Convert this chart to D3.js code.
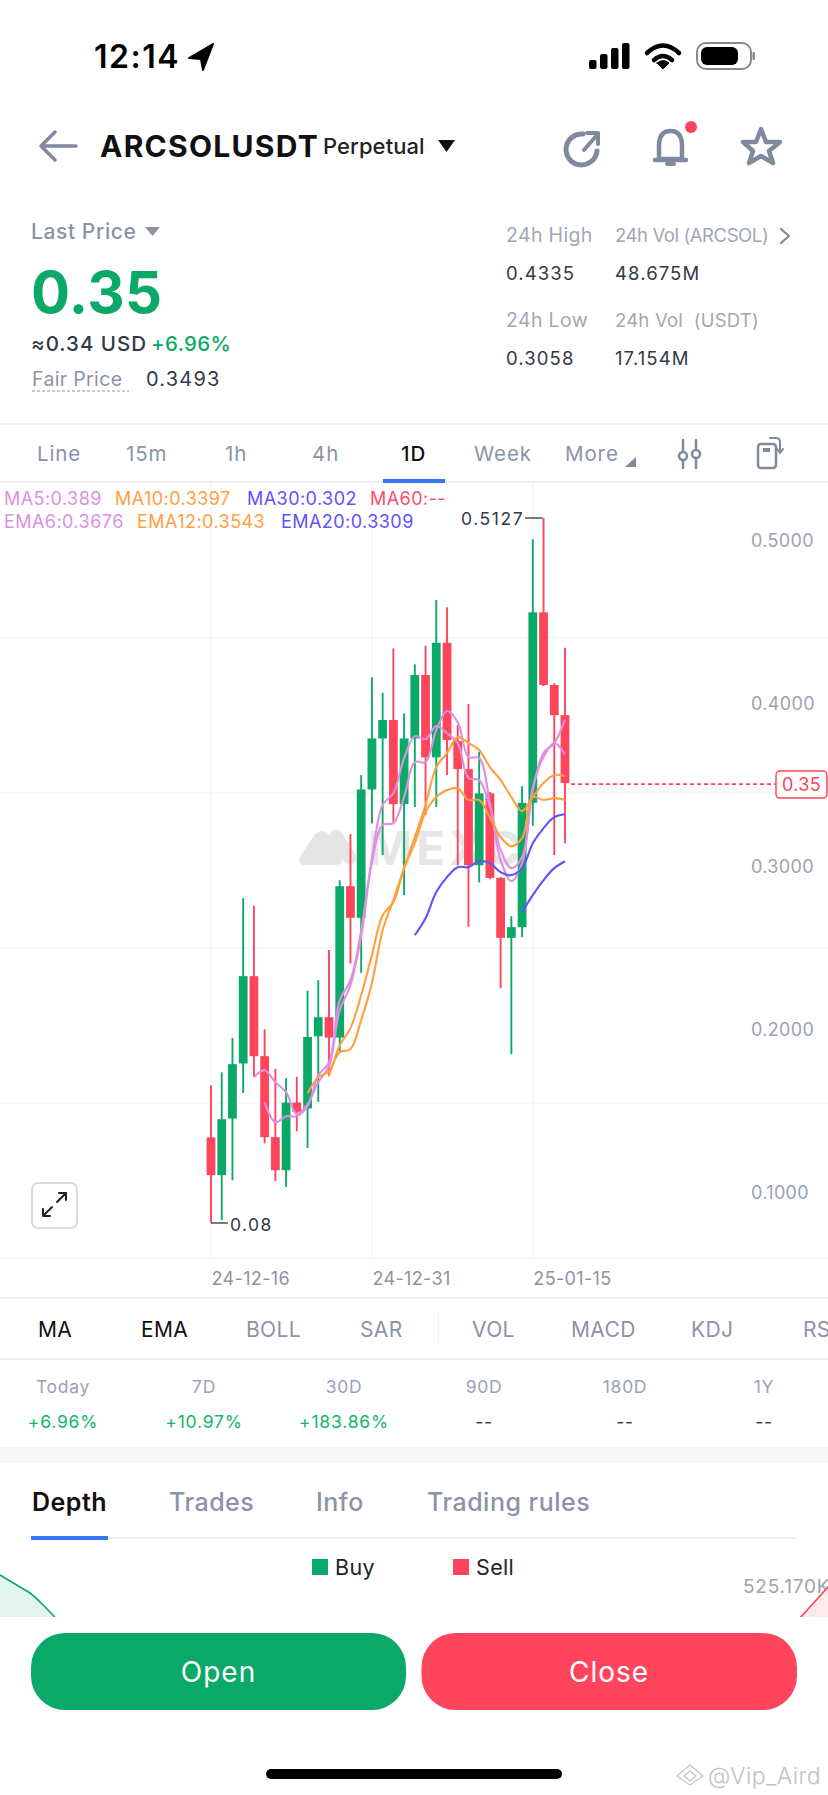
<!DOCTYPE html>
<html>
<head>
<meta charset="utf-8">
<style>
  html, body { margin: 0; padding: 0; background: #fff; }
  svg { display: block; }
  text { font-family: Inter, "Noto Sans", sans-serif; letter-spacing: 0.35px; }
</style>
<script src="https://cdn.jsdelivr.net/npm/d3@7/dist/d3.min.js"></script>
</head>
<body>
<div id="svg-area"></div>
<script>
var svgWidth = 828;
var svgHeight = 1795;

// daily candles
var dates = ["24-12-16","24-12-17","24-12-18","24-12-19","24-12-20","24-12-21","24-12-22","24-12-23","24-12-24","24-12-25",
  "24-12-26","24-12-27","24-12-28","24-12-29","24-12-30","24-12-31","25-01-01","25-01-02","25-01-03","25-01-04",
  "25-01-05","25-01-06","25-01-07","25-01-08","25-01-09","25-01-10","25-01-11","25-01-12","25-01-13","25-01-14",
  "25-01-15","25-01-16","25-01-17","25-01-18"];
var opens = [.1325,.1094,.1441,.1779,.2315,.1824,.1327,.1124,.1539,.1503,.1946,.2063,.1938,.2867,.2673,.3461,.3774,
  .3887,.3371,.3774,.4163,.3658,.4361,.3758,.3586,.2996,.3437,.2918,.2550,.2616,.3379,.4548,.4102,.3917];
var highs = [.1646,.1725,.1936,.2794,.2747,.1989,.1746,.1689,.1697,.2225,.2290,.2475,.2904,.3187,.3549,.4149,.4054,
  .4327,.3928,.4229,.4343,.4624,.4579,.3856,.3985,.3692,.3445,.2925,.2683,.3481,.4996,.5127,.4112,.4331];
var lows = [.08,.0818,.1062,.1598,.1697,.1289,.1058,.1021,.1363,.1261,.1543,.1701,.1850,.2393,.2335,.3252,.3058,
  .3262,.2812,.3353,.3303,.3354,.3549,.2996,.2618,.2890,.2910,.2241,.1836,.2554,.3238,.4096,.3058,.3130];
var closes = [.1094,.1437,.1775,.2315,.1824,.1327,.1124,.1539,.1482,.1942,.2063,.1938,.2867,.2673,.3461,.3774,.3887,
  .3371,.3774,.4163,.3658,.4361,.3764,.3586,.2996,.3437,.2918,.2550,.2616,.3379,.4548,.4102,.3917,.35];

// moving averages, null until the line begins
var ma5 = [null,null,null,null,.1695,.1738,.1664,.1603,.1468,.1529,.1664,.1762,.2106,.2260,.2560,.3015,.3242,.3254,
  .3414,.3629,.3629,.3825,.3942,.3874,.3660,.3653,.3377,.3027,.2898,.3009,.3457,.3684,.3745,.389];
var ema6 = [null,null,null,null,null,.1541,.1418,.1455,.1455,.1517,.1707,.1787,.2168,.2290,.2597,.3039,.3365,.3438,
  .3653,.3788,.3770,.3850,.3807,.3745,.3531,.3518,.3353,.3089,.2978,.3046,.3475,.3660,.3745,.3676];
var ma10 = [null,null,null,null,null,null,null,null,null,.1596,.1695,.1732,.1891,.1996,.2198,.2444,.2689,.2769,
  .2978,.3131,.3322,.3414,.3457,.3469,.3396,.3396,.3291,.3168,.3113,.3162,.3414,.3396,.3408,.3397];
var ema12 = [null,null,null,null,null,null,null,null,null,null,null,.1701,.1848,.1867,.2045,.2272,.2597,.2782,
  .2978,.3168,.3365,.3598,.3684,.3782,.3745,.3703,.3598,.3518,.3414,.3328,.3414,.3500,.3549,.3543];
var ema20 = [null,null,null,null,null,null,null,null,null,null,null,null,null,null,null,null,null,null,null,
  .2567,.2671,.2831,.2923,.2984,.2984,.3021,.3009,.2953,.2935,.2978,.3131,.3224,.3291,.3309];
var ma30 = [null,null,null,null,null,null,null,null,null,null,null,null,null,null,null,null,null,null,null,null,
  null,null,null,null,null,null,null,null,null,.2708,.2812,.2904,.2978,.302];

var priceTicks = [.5, .4, .3, .2, .1];
var dateTicks = ["24-12-16", "24-12-31", "25-01-15"];
var lastPrice = 0.35;

var legendRow1 = ["MA5:0.389", "MA10:0.3397", "MA30:0.302", "MA60:--"];
var legendRow2 = ["EMA6:0.3676", "EMA12:0.3543", "EMA20:0.3309"];
var intervalTabs = ["Line", "15m", "1h", "4h", "1D", "Week", "More"];
var indicatorTabs = ["MA", "EMA", "BOLL", "SAR", "VOL", "MACD", "KDJ", "RSI"];
var periodNames = ["Today", "7D", "30D", "90D", "180D", "1Y"];
var periodValues = ["+6.96%", "+10.97%", "+183.86%", "--", "--", "--"];
var infoTabs = ["Depth", "Trades", "Info", "Trading rules"];

// depth chart corners that show above the buttons
var bidOffset = [0, 10, 20, 30, 40, 50, 60];
var bidDepth = [42, 36, 30, 24, 15, 5, -6];
var askOffset = [0, 10, 20, 30];
var askDepth = [-2, 9, 20, 31];

var green = "#0ba968", red = "#ff455c", gray = "#8a94a6", ink = "#333a45", iconGray = "#7f8a9e";
var pink = "#dd90e2", orange = "#ff9f3f", purple = "#6152ff", rule = "#eef0f4", grid = "#f3f4f7";

var svg = d3.select("#svg-area")
  .append("svg")
  .attr("width", svgWidth)
  .attr("height", svgHeight)
  .attr("viewBox", "0 0 " + svgWidth + " " + svgHeight);

function label(x, y, str, size, color, weight, anchor) {
  return svg.append("text")
    .attr("x", x).attr("y", y)
    .attr("font-size", size)
    .attr("fill", color)
    .attr("font-weight", weight || 400)
    .attr("text-anchor", anchor || "start")
    .text(str);
}
function spaced(sel, px) {
  return sel.style("letter-spacing", px + "px");
}
function hline(y, x1, x2, color, w) {
  svg.append("line").attr("x1", x1).attr("x2", x2).attr("y1", y).attr("y2", y)
    .attr("stroke", color).attr("stroke-width", w);
}
function icon(d, stroke, w, fill) {
  return svg.append("path").attr("d", d)
    .attr("fill", fill || "none")
    .attr("stroke", stroke || "none")
    .attr("stroke-width", w || 0)
    .attr("stroke-linecap", "round")
    .attr("stroke-linejoin", "round");
}

// status bar
label(94, 68, "12:14", 32, "#000", 600).attr("textLength", 85);
icon("M213 44 L189 58 L201 59 L203 70 Z", "#000", 2, "#000");
[[589, 60], [600, 54], [611, 48], [622, 43]].forEach(function(b) {
  svg.append("rect").attr("x", b[0]).attr("y", b[1]).attr("width", 7.5).attr("height", 69 - b[1]).attr("rx", 2).attr("fill", "#000");
});
icon("M647 53 Q663 38 679 53", "#000", 4.5);
icon("M654 60 Q663 52 672 60", "#000", 4.5);
icon("M657 63 L663 69 L669 63 Q663 58 657 63 Z", "#000", 1, "#000");
svg.append("rect").attr("x", 697).attr("y", 43).attr("width", 54).attr("height", 26).attr("rx", 9).attr("fill", "#fff").attr("stroke", "#8a8a8a").attr("stroke-width", 2);
svg.append("rect").attr("x", 701).attr("y", 47).attr("width", 37).attr("height", 18).attr("rx", 6).attr("fill", "#000");
svg.append("rect").attr("x", 752.5).attr("y", 52).attr("width", 2.5).attr("height", 8).attr("rx", 1).attr("fill", "#8a8a8a");

// title row
icon("M76 146 L42 146 M55 132 L41 146 L55 160", iconGray, 3.5);
label(100, 157, "ARCSOLUSDT", 30, "#111", 700).attr("textLength", 218);
label(323, 154, "Perpetual", 22, "#222", 500).attr("textLength", 102);
icon("M438 140 L455 140 L446.5 152 Z", null, 0, "#111");
icon("M583 134 A15.5 15.5 0 1 0 597 151", iconGray, 5);
icon("M584 150 L597 135 M587 133 L598 133 L598 144", iconGray, 4);
icon("M659 159 L659 146 Q659 131 670.5 131 Q682 131 682 146 L682 159 Z", iconGray, 4.5);
icon("M655 160 L686 160", iconGray, 4.5);
icon("M667 164 L674 164", iconGray, 4);
svg.append("circle").attr("cx", 691).attr("cy", 127).attr("r", 6).attr("fill", red);
icon("M761 129 L766 142 L780 142 L769 151 L773 163 L761 156 L749 163 L753 151 L743 142 L756 142 Z", iconGray, 4.5);

// price block
spaced(label(31, 239, "Last Price", 21, gray, 500), 0.6);
icon("M145 227 L160 227 L152.5 236 Z", null, 0, gray);
label(31, 313, "0.35", 58, green, 700);
spaced(label(31, 351, "≈0.34 USD", 20.5, ink, 500), 1);
label(151, 351, "+6.96%", 20.5, green, 500);
label(32, 386, "Fair Price", 19.5, gray, 400);
svg.append("line").attr("x1", 32).attr("x2", 129).attr("y1", 391).attr("y2", 391)
  .attr("stroke", gray).attr("stroke-width", 1.2).attr("stroke-dasharray", "3 2");
spaced(label(146, 386, "0.3493", 20, ink, 400), 1.2);

label(506, 242, "24h High", 19.5, "#a0a8b6");
label(615, 242, "24h Vol (ARCSOL)", 18.5, "#a0a8b6").attr("textLength", 154);
icon("M781 229 L789 236 L781 243", iconGray, 2.2);
spaced(label(506, 280, "0.4335", 18.5, ink), 1.1);
spaced(label(615, 280, "48.675M", 18.5, ink), 1.1);
label(506, 327, "24h Low", 19.5, "#a0a8b6");
label(615, 327, "24h Vol  (USDT)", 18.5, "#a0a8b6").attr("textLength", 144).attr("xml:space", "preserve");
spaced(label(506, 365, "0.3058", 18.5, ink), 1.1);
spaced(label(615, 365, "17.154M", 18.5, ink), 1.1);

// interval tabs
hline(424, 0, svgWidth, rule, 2);
hline(482, 0, svgWidth, rule, 2);
var intervalX = [37, 126, 225, 312, 401, 474, 565];
intervalTabs.forEach(function(t, i) {
  spaced(label(intervalX[i], 461, t, 20.5, t === "1D" ? "#111" : gray, t === "1D" ? 500 : 400), 0.9);
});
svg.append("rect").attr("x", 383).attr("y", 479).attr("width", 62).attr("height", 4).attr("fill", "#3577f5");
icon("M636 457 L636 467 L625 467 Z", null, 0, iconGray);
icon("M683 440 L683 451 M683 462 L683 468 M696 440 L696 448 M696 460 L696 468", iconGray, 2.5);
svg.append("circle").attr("cx", 683).attr("cy", 456).attr("r", 4).attr("fill", "none").attr("stroke", iconGray).attr("stroke-width", 2.5);
svg.append("circle").attr("cx", 696).attr("cy", 454).attr("r", 4).attr("fill", "none").attr("stroke", iconGray).attr("stroke-width", 2.5);
svg.append("rect").attr("x", 758).attr("y", 444).attr("width", 18).attr("height", 24).attr("rx", 3).attr("fill", "none").attr("stroke", iconGray).attr("stroke-width", 2.5);
svg.append("rect").attr("x", 763).attr("y", 448).attr("width", 7).attr("height", 4).attr("fill", iconGray);
icon("M770 438 L776 438 Q780 438 780 442 L780 452 M777 449 L780 453 L783 449", iconGray, 2);

// scales, price runs top to bottom between the two marked extremes
var xScale = d3.scalePoint()
  .domain(dates)
  .range([211, 565]);
var yScale = d3.scaleLinear()
  .domain([0.5127, 0.08])
  .range([518, 1223]);

// chart grid: five equal rows, vertical lines at the dated candles
d3.range(1, 6).forEach(function(i) {
  hline(483 + i * 155, 0, svgWidth, grid, 1.5);
});
dateTicks.forEach(function(d) {
  svg.append("line").attr("x1", xScale(d)).attr("x2", xScale(d)).attr("y1", 483).attr("y2", 1258)
    .attr("stroke", grid).attr("stroke-width", 1.5);
});

// MEXC watermark
icon("M302 857 L316 836 Q322 830 328 836 L340 857 Q342 863 336 863 L305 863 Q300 863 302 857 Z", "#e5e5e5", 4, "#e5e5e5");
icon("M336 836 L350 858", "#e5e5e5", 13);
label(368, 865, "MEXC", 47, "#e6e6e6", 700).attr("textLength", 153);

// candles
var candles = dates.map(function(d, i) {
  return { date: d, open: opens[i], high: highs[i], low: lows[i], close: closes[i] };
});
var candleColor = function(d) { return d.close >= d.open ? green : red; };

svg.append("g").selectAll("line")
  .data(candles)
  .enter().append("line")
  .attr("x1", d => xScale(d.date))
  .attr("x2", d => xScale(d.date))
  .attr("y1", d => yScale(d.high))
  .attr("y2", d => yScale(d.low))
  .attr("stroke", candleColor)
  .attr("stroke-width", 1.9);

svg.append("g").selectAll("rect")
  .data(candles)
  .enter().append("rect")
  .attr("x", d => xScale(d.date) - 4.4)
  .attr("width", 8.8)
  .attr("y", d => yScale(Math.max(d.open, d.close)))
  .attr("height", d => Math.abs(yScale(d.open) - yScale(d.close)))
  .attr("fill", candleColor);

// average lines
var lineGenerator = d3.line()
  .defined(d => d.value !== null)
  .x(d => xScale(d.date))
  .y(d => yScale(d.value))
  .curve(d3.curveCatmullRom);

[[ma5, pink], [ema6, pink], [ma10, orange], [ema12, orange], [ma30, purple], [ema20, purple]].forEach(function(s) {
  svg.append("path")
    .attr("fill", "none")
    .attr("stroke", s[1])
    .attr("stroke-width", 2.1)
    .attr("d", lineGenerator(s[0].map(function(v, i) { return { date: dates[i], value: v }; })));
});

// legend
var legendColors = [pink, orange, purple, "#ff4d66"];
var row1X = [4, 115, 247, 370];
legendRow1.forEach(function(t, i) { spaced(label(row1X[i], 505, t, 18, legendColors[i]), 0.45); });
var row2X = [4, 137, 281];
legendRow2.forEach(function(t, i) { spaced(label(row2X[i], 528, t, 18, legendColors[i]), 0.45); });

// price axis labels
svg.append("g").selectAll("text")
  .data(priceTicks)
  .enter().append("text")
  .attr("x", 751)
  .attr("y", d => yScale(d) + 8.5)
  .attr("font-size", 18)
  .attr("fill", "#9aa3b2")
  .text(d => d.toFixed(4));

// date axis
var xAxis = d3.axisBottom(xScale).tickValues(dateTicks).tickSize(0);
var xAxisGroup = svg.append("g").attr("transform", "translate(0,1258)").call(xAxis);
xAxisGroup.select(".domain").remove();
xAxisGroup.selectAll("text")
  .attr("text-anchor", "start")
  .attr("y", 27)
  .attr("dy", 0)
  .attr("font-size", 18)
  .attr("font-family", "Inter")
  .attr("fill", gray);

// high, low and last price markers
hline(yScale(d3.max(highs)), 525, xScale(dates[31]) - 1, "#333", 1.3);
spaced(label(461, yScale(d3.max(highs)) + 7, "0.5127", 17.5, ink), 1.6);
hline(yScale(d3.min(lows)), xScale(dates[0]), 228, "#333", 1.3);
spaced(label(230, yScale(d3.min(lows)) + 8, "0.08", 17.5, ink), 1.4);
svg.append("line")
  .attr("x1", xScale(dates[33]) + 6).attr("x2", 776)
  .attr("y1", yScale(lastPrice) + 1).attr("y2", yScale(lastPrice) + 1)
  .attr("stroke", red).attr("stroke-width", 1.7).attr("stroke-dasharray", "4 3");
svg.append("rect").attr("x", 776).attr("y", yScale(lastPrice) - 12).attr("width", 51).attr("height", 27).attr("rx", 4)
  .attr("fill", "#fff").attr("stroke", red).attr("stroke-width", 1.5);
label(801.5, yScale(lastPrice) + 8, "0.35", 18, red, 400, "middle");

// expand button
svg.append("rect").attr("x", 32).attr("y", 1183).attr("width", 45).attr("height", 45).attr("rx", 6)
  .attr("fill", "#fff").attr("stroke", "#d9dbe0").attr("stroke-width", 2);
icon("M43 1216 L52 1207 M43 1209 L43 1216 L50 1216 M57 1202 L66 1193 M59 1193 L66 1193 L66 1200", "#222", 2);

// indicator tabs
hline(1298, 0, svgWidth, rule, 2);
hline(1359, 0, svgWidth, rule, 2);
var indicatorX = [38, 141, 246, 360, 472, 571, 691, 803];
indicatorTabs.forEach(function(t, i) {
  label(indicatorX[i], 1337, t, 21, i < 2 ? "#111" : gray, 400);
});
svg.append("line").attr("x1", 438.5).attr("x2", 438.5).attr("y1", 1313).attr("y2", 1343).attr("stroke", rule).attr("stroke-width", 1.5);

// period changes
var periodX = [63, 204, 344, 484, 625, 764];
periodNames.forEach(function(t, i) {
  spaced(label(periodX[i], 1393, t, 17.5, "#9aa3b2", 400, "middle"), 0.7);
  spaced(label(periodX[i], 1428, periodValues[i], 17.5, i < 3 ? "#12b76a" : ink, 400, "middle"), 0.8);
});
svg.append("rect").attr("x", 0).attr("y", 1447).attr("width", svgWidth).attr("height", 16).attr("fill", "#f5f6f8");

// info tabs
var infoX = [32, 169, 316, 427];
infoTabs.forEach(function(t, i) {
  spaced(label(infoX[i], 1511, t, 25, i === 0 ? "#111" : gray, i === 0 ? 600 : 500), 0.5);
});
hline(1538, 31, 797, rule, 2);
svg.append("rect").attr("x", 31).attr("y", 1536).attr("width", 77).attr("height", 4).attr("fill", "#3577f5");

// depth legend
svg.append("rect").attr("x", 312).attr("y", 1559).attr("width", 16).attr("height", 16).attr("fill", green);
label(335, 1575, "Buy", 21.5, "#222");
svg.append("rect").attr("x", 453).attr("y", 1559).attr("width", 16).attr("height", 16).attr("fill", red);
label(476, 1575, "Sell", 21.5, "#222");
spaced(label(743, 1593, "525.170K", 19, "#9aa3b2"), 0.8);

// depth curves, clipped by the button panel
var depthY = d3.scaleLinear().domain([0, 42]).range([1617, 1575]);
var bidX = d3.scaleLinear().domain([0, 60]).range([0, 60]);
var askX = d3.scaleLinear().domain([0, 30]).range([799, 829]);
var bids = bidOffset.map(function(o, i) { return [o, bidDepth[i]]; });
var asks = askOffset.map(function(o, i) { return [o, askDepth[i]]; });
var bidArea = d3.area().x(d => bidX(d[0])).y0(depthY(-6)).y1(d => depthY(d[1])).curve(d3.curveMonotoneX);
var bidLine = d3.line().x(d => bidX(d[0])).y(d => depthY(d[1])).curve(d3.curveMonotoneX);
var askArea = d3.area().x(d => askX(d[0])).y0(depthY(-6)).y1(d => depthY(d[1]));
var askLine = d3.line().x(d => askX(d[0])).y(d => depthY(d[1]));
svg.append("path").attr("d", bidArea(bids)).attr("fill", "#e3f5ee");
svg.append("path").attr("d", bidLine(bids)).attr("fill", "none").attr("stroke", green).attr("stroke-width", 1.7);
svg.append("path").attr("d", askArea(asks)).attr("fill", "#fdeaec");
svg.append("path").attr("d", askLine(asks)).attr("fill", "none").attr("stroke", red).attr("stroke-width", 1.7);

// bottom panel
svg.append("rect").attr("x", 0).attr("y", 1617).attr("width", svgWidth).attr("height", 178).attr("fill", "#fff");
svg.append("rect").attr("x", 31).attr("y", 1633).attr("width", 375).attr("height", 77).attr("rx", 34).attr("fill", green);
svg.append("rect").attr("x", 421.5).attr("y", 1633).attr("width", 375.5).attr("height", 77).attr("rx", 34).attr("fill", red);
spaced(label(218.5, 1682, "Open", 28, "#fff", 400, "middle"), 1);
spaced(label(609, 1682, "Close", 28, "#fff", 400, "middle"), 1);
svg.append("rect").attr("x", 266).attr("y", 1769).attr("width", 296).attr("height", 10).attr("rx", 5).attr("fill", "#000");

// corner credit
icon("M677 1776 L690 1765 L703 1776 L690 1785 Z M684 1776 L690 1771 L696 1776 L690 1781 Z", "#c4c4c4", 1.2);
label(708, 1784, "@Vip_Aird", 23, "#c2c2c2", 300).attr("textLength", 113);
</script>
</body>
</html>
